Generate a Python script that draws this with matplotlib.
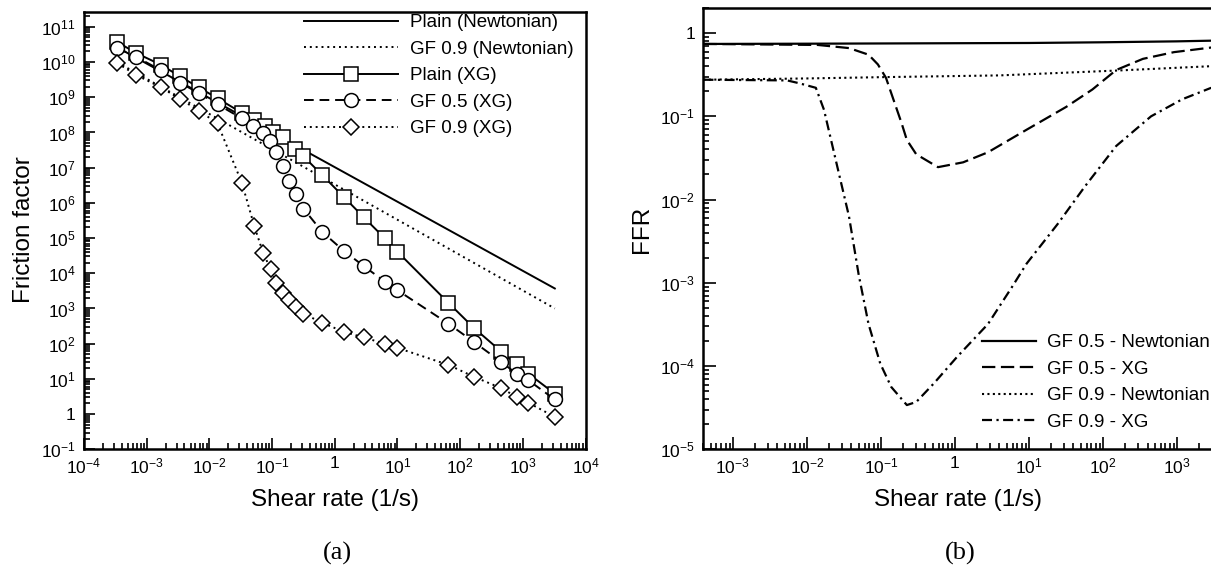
import matplotlib
matplotlib.use('Agg')
import matplotlib.pyplot as plt
import numpy as np
from matplotlib.ticker import FixedLocator, LogLocator, FuncFormatter, NullFormatter

plt.rcParams['font.family'] = ['Liberation Sans', 'DejaVu Sans']
plt.rcParams['mathtext.fontset'] = 'custom'
plt.rcParams['mathtext.rm'] = 'Liberation Sans'
plt.rcParams['mathtext.it'] = 'Liberation Sans:italic'
plt.rcParams['mathtext.bf'] = 'Liberation Sans:bold'

# ---------------- Panel (a) data: friction factor vs shear rate ----------------
newt_plain_x = [3.4e-4, 0.316, 3240]
newt_plain_y = [2.6e10, 3.2e7, 3.7e3]
newt_gf09_x = [3.4e-4, 0.28, 3240]
newt_gf09_y = [9.8e9, 1.2e7, 1.0e3]

plain_xg_x = [3.4e-4, 6.8e-4, 1.7e-3, 3.4e-3, 6.8e-3, 1.35e-2, 3.3e-2, 5.2e-2, 7.6e-2, 0.102,
              0.148, 0.23, 0.316, 0.63, 1.38, 2.9, 6.3, 10, 65, 166, 457, 794, 1230, 3240]
plain_xg_y = [3.7e10, 1.8e10, 8.3e9, 3.9e9, 1.9e9, 9.3e8, 3.6e8, 2.3e8, 1.5e8, 1.05e8,
              7.2e7, 3.5e7, 2.1e7, 6.2e6, 1.5e6, 3.9e5, 9.8e4, 4.1e4, 1450, 280, 59, 26, 14, 3.8]

gf05_xg_x = [3.4e-4, 6.8e-4, 1.7e-3, 3.4e-3, 6.8e-3, 1.35e-2, 3.3e-2, 5.0e-2, 7.2e-2, 9.3e-2,
             0.117, 0.148, 0.186, 0.24, 0.316, 0.63, 1.38, 2.9, 6.3, 10, 65, 166, 457, 794, 1230, 3240]
gf05_xg_y = [2.5e10, 1.4e10, 5.8e9, 2.6e9, 1.3e9, 6.3e8, 2.5e8, 1.5e8, 9.5e7, 5.9e7,
             2.7e7, 1.15e7, 4.3e6, 1.8e6, 6.9e5, 1.5e5, 4.4e4, 1.6e4, 5.8e3, 3.3e3, 370, 112, 30, 14, 9.1, 2.6]

gf09_xg_x = [3.4e-4, 6.8e-4, 1.7e-3, 3.4e-3, 6.8e-3, 1.35e-2, 3.3e-2, 5.2e-2, 7.2e-2, 9.5e-2,
             0.117, 0.148, 0.186, 0.24, 0.316, 0.63, 1.38, 2.9, 6.3, 10, 65, 166, 457, 794, 1230, 3240]
gf09_xg_y = [9.3e9, 4.3e9, 1.9e9, 8.9e8, 4.2e8, 1.8e8, 3.7e6, 2.2e5, 3.8e4, 1.3e4,
             5.4e3, 2.75e3, 1.75e3, 1.1e3, 720, 390, 220, 150, 100, 76, 25, 11.5, 5.4, 3.1, 2.1, 0.83]

# ---------------- Panel (b) data: FFR vs shear rate ----------------
ffr_n05_x = [4e-4, 1e-2, 1, 10, 100, 1000, 2900]
ffr_n05_y = [0.74, 0.745, 0.755, 0.76, 0.775, 0.795, 0.81]

ffr_xg05_x = [4e-4, 0.014, 0.037, 0.068, 0.091, 0.117, 0.148, 0.19, 0.224, 0.30, 0.59, 1.29, 2.8,
              9.3, 32, 72, 151, 347, 912, 2900]
ffr_xg05_y = [0.74, 0.72, 0.66, 0.55, 0.42, 0.29, 0.158, 0.083, 0.052, 0.035, 0.0245, 0.028, 0.037,
              0.069, 0.13, 0.21, 0.36, 0.49, 0.59, 0.67]

ffr_n09_x = [4e-4, 1e-2, 0.12, 4, 160, 2900]
ffr_n09_y = [0.275, 0.285, 0.296, 0.31, 0.355, 0.40]

ffr_xg09_x = [4e-4, 5.4e-3, 7.8e-3, 0.0132, 0.017, 0.0257, 0.037, 0.050, 0.068, 0.098, 0.138, 0.224,
              0.30, 0.52, 1.07, 2.8, 5.9, 9.3, 24.5, 57.5, 151, 447, 1175, 2900]
ffr_xg09_y = [0.275, 0.27, 0.25, 0.22, 0.12, 0.025, 6.3e-3, 1.26e-3, 3.2e-4, 1.07e-4, 5.6e-5, 3.4e-5,
              3.7e-5, 6.2e-5, 1.29e-4, 3.2e-4, 8.9e-4, 1.7e-3, 5.1e-3, 0.0145, 0.044, 0.10, 0.16, 0.22]

labels_a = ['Plain (Newtonian)', 'GF 0.9 (Newtonian)', 'Plain (XG)', 'GF 0.5 (XG)', 'GF 0.9 (XG)']
labels_b = ['GF 0.5 - Newtonian', 'GF 0.5 - XG', 'GF 0.9 - Newtonian', 'GF 0.9 - XG']

W, H = 1211, 569
fig = plt.figure(figsize=(W / 100, H / 100), dpi=100)


def px_axes(l, t, r, b):
    return [l / W, 1 - b / H, (r - l) / W, (b - t) / H]


ax1 = fig.add_axes(px_axes(84, 11.7, 585.5, 449.3))
ax2 = fig.add_axes(px_axes(703.3, 8, 1211, 449.3))


def fmt(v, pos):
    e = int(round(np.log10(v)))
    return '1' if e == 0 else r'$\mathregular{10^{%d}}$' % e


def decades(lo, hi):
    e0 = int(np.ceil(np.log10(lo) - 1e-9))
    e1 = int(np.floor(np.log10(hi) + 1e-9))
    return [10.0 ** e for e in range(e0, e1 + 1)]


def style_axis(ax, xlim, ylim):
    ax.set_xscale('log')
    ax.set_yscale('log')
    ax.set_xlim(*xlim)
    ax.set_ylim(*ylim)
    for a, lim in ((ax.xaxis, xlim), (ax.yaxis, ylim)):
        a.set_major_locator(FixedLocator(decades(*lim)))
        a.set_minor_locator(LogLocator(base=10, subs=np.arange(2, 10), numticks=100))
        a.set_major_formatter(FuncFormatter(fmt))
        a.set_minor_formatter(NullFormatter())
    ax.tick_params(which='both', direction='in', top=False, right=False, width=1.2, labelsize=12.5)
    ax.tick_params(axis='x', which='both', pad=5)
    ax.tick_params(axis='y', which='both', pad=6)
    for s in ax.spines.values():
        s.set_linewidth(1.8)


# Panel (a)
mk = dict(markerfacecolor='white', markeredgecolor='black', markeredgewidth=1.1, color='black')
ax1.plot(newt_plain_x, newt_plain_y, '-', color='black', lw=1.4, label=labels_a[0])
ax1.plot(newt_gf09_x, newt_gf09_y, linestyle=(0, (1, 2)), color='black', lw=1.4, label=labels_a[1])
ax1.plot(plain_xg_x, plain_xg_y, '-', lw=1.4, marker='s', markersize=9.5, label=labels_a[2], **mk)
ax1.plot(gf05_xg_x, gf05_xg_y, linestyle=(0, (5, 3)), lw=1.4, marker='o', markersize=10, label=labels_a[3], **mk)
ax1.plot(gf09_xg_x, gf09_xg_y, linestyle=(0, (1, 2)), lw=1.4, marker='D', markersize=8.5, label=labels_a[4], **mk)
style_axis(ax1, (1e-4, 1e4), (1e-1, 10 ** 11.43))
ax1.tick_params(which='major', length=8)
ax1.tick_params(which='minor', length=4)

leg1 = ax1.legend(loc='upper left', bbox_to_anchor=(304 / W, 1 - 14 / H), bbox_transform=fig.transFigure,
                  frameon=False, fontsize=13.5, handlelength=5.0, handletextpad=0.65,
                  labelspacing=0.5, borderpad=0, borderaxespad=0, numpoints=1)

# Panel (b)
ax2.plot(ffr_n05_x, ffr_n05_y, '-', color='black', lw=1.6, label=labels_b[0])
ax2.plot(ffr_xg05_x, ffr_xg05_y, linestyle=(0, (6, 2.5)), color='black', lw=1.6, label=labels_b[1])
ax2.plot(ffr_n09_x, ffr_n09_y, linestyle=(0, (1, 1.6)), color='black', lw=1.5, label=labels_b[2])
ax2.plot(ffr_xg09_x, ffr_xg09_y, linestyle=(0, (4.5, 2, 1, 2)), color='black', lw=1.6, label=labels_b[3])
style_axis(ax2, (10 ** -3.4, 10 ** 3.46), (1e-5, 2))
ax2.tick_params(which='major', length=9)
ax2.tick_params(which='minor', length=4.5)
ax2.spines['right'].set_visible(False)

leg2 = ax2.legend(loc='upper left', bbox_to_anchor=(982 / W, 1 - 334 / H), bbox_transform=fig.transFigure,
                  frameon=False, fontsize=13.5, handlelength=2.9, handletextpad=0.55,
                  labelspacing=0.5, borderpad=0, borderaxespad=0)

# axis labels
fig.text(335 / W, 1 - 500 / H, 'Shear rate (1/s)', ha='center', va='center', fontsize=17.5)
fig.text(958 / W, 1 - 500 / H, 'Shear rate (1/s)', ha='center', va='center', fontsize=17.5)
fig.text(24 / W, 1 - 230 / H, 'Friction factor', ha='center', va='center', rotation=90, fontsize=17.5)
fig.text(642 / W, 1 - 229 / H, 'FFR', ha='center', va='center', rotation=90, fontsize=17.5)

fig.text(337 / W, 1 - 553 / H, '(a)', ha='center', va='center', fontsize=19, family='Liberation Serif')
fig.text(960 / W, 1 - 553 / H, '(b)', ha='center', va='center', fontsize=19, family='Liberation Serif')

fig.savefig('out.png', dpi=100)
